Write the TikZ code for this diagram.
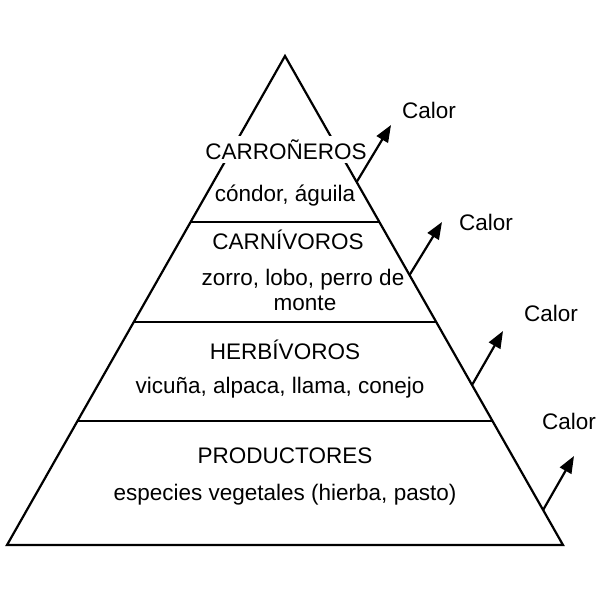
\documentclass[tikz,border=0pt]{standalone}
\usepackage{fontspec}
\setmainfont{Liberation Sans}
\usetikzlibrary{arrows.meta,calc}
\begin{document}
\begin{tikzpicture}[x=1pt,y=-1pt,line width=2.2pt,
  lbl/.style={font=\fontsize{22.5}{26}\selectfont,inner sep=0pt,anchor=base},
  heat/.style={-{Triangle[length=17pt,width=13pt]},line width=2.2pt}]
\useasboundingbox (0,0) rectangle (602,602);
\coordinate (A) at (285,56);
\coordinate (BL) at (7,545);
\coordinate (BR) at (563,545);
\draw (A) -- (BL) -- (BR) -- cycle;
% layer boundaries
\coordinate (l1) at ($(A)!0.3395!(BL)$);
\coordinate (r1) at ($(A)!0.3395!(BR)$);
\coordinate (l2) at ($(A)!0.5440!(BL)$);
\coordinate (r2) at ($(A)!0.5440!(BR)$);
\coordinate (l3) at ($(A)!0.7464!(BL)$);
\coordinate (r3) at ($(A)!0.7464!(BR)$);
\draw (l1) -- (r1);
\draw (l2) -- (r2);
\draw (l3) -- (r3);
% texts
\node[lbl,fill=white,inner xsep=4pt,inner ysep=3.5pt] (carr) at (286,159) {CARROÑEROS};
\node[lbl] (carrex) at (285,201) {cóndor, águila};
\node[lbl] (carn) at (288,249) {CARNÍVOROS};
\node[lbl] (carnex) at (303,285) {zorro, lobo, perro de};
\node[lbl] (carnex2) at (305,310) {monte};
\node[lbl] (herb) at (285,359) {HERBÍVOROS};
\node[lbl] (herbex) at (280,393) {vicuña, alpaca, llama, conejo};
\node[lbl] (prod) at (285,463) {PRODUCTORES};
\node[lbl] (prodex) at (285,500) {especies vegetales (hierba, pasto)};
% heat arrows
\coordinate (b1) at ($(A)!0.2577!(BR)$);
\coordinate (b2) at ($(A)!0.4479!(BR)$);
\coordinate (b3) at ($(A)!0.6728!(BR)$);
\coordinate (b4) at ($(A)!0.9284!(BR)$);
\coordinate (t1) at (391,125);
\coordinate (t2) at (442,222);
\coordinate (t3) at (503,331);
\coordinate (t4) at (574,456);
\draw[heat] (b1) -- (t1);
\draw[heat] (b2) -- (t2);
\draw[heat] (b3) -- (t3);
\draw[heat] (b4) -- (t4);
\node[lbl] (c1) at (429,118) {Calor};
\node[lbl] (c2) at (486,230) {Calor};
\node[lbl] (c3) at (551,321) {Calor};
\node[lbl] (c4) at (569,429) {Calor};
\end{tikzpicture}
\end{document}
